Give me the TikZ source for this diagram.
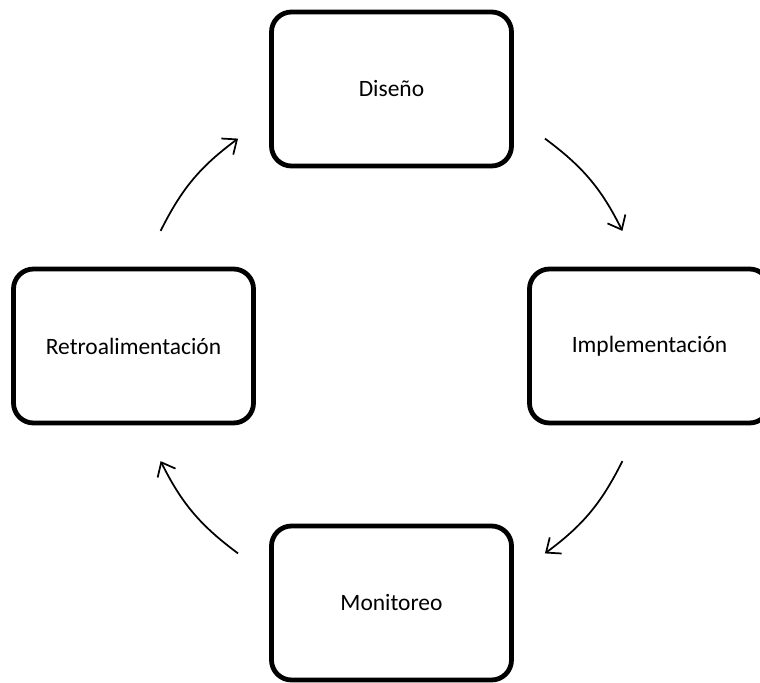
\documentclass[tikz,border=0pt]{standalone}
\usepackage{fontspec}
\setmainfont{Carlito}
\usetikzlibrary{positioning}
\usetikzlibrary{calc}
\usetikzlibrary{arrows.meta}

\begin{document}
\begin{tikzpicture}[x=0.75pt, y=0.75pt, node distance={192.75pt}, on grid, main/.style = {draw, line width=3.6pt, rounded corners=15pt, minimum width=180pt, minimum height=115.5pt, font=\fontsize{17.6}{21}\selectfont}, flow/.style = {line width=1.3pt, -{Straight Barb[length=9pt, width=15pt, line width=1.3pt]}}]
            \useasboundingbox (0,0) rectangle (760,-682);
            \clip (0,0) rectangle (760,-682);
            \node[main] (1) at (391.5,-89) {Diseño};
            \node[main] (2) [below right=192.75pt and 193.5pt of 1] {Implementación};
            \node[main] (3) [below left=192.75pt and 193.5pt of 1] {Retroalimentación};
            \node[main] (4) [below=385.5pt of 1] {Monitoreo};
            \coordinate (c) at ($(2)!0.5!(3)$);
            \coordinate (a1) at ($(c)+(53.5:193.5pt)$);
            \coordinate (b1) at ($(c)+(26.5:193.5pt)$);
            \coordinate (a2) at ($(c)+(-26.5:193.5pt)$);
            \coordinate (b2) at ($(c)+(-53.5:193.5pt)$);
            \coordinate (a3) at ($(c)+(-126.5:193.5pt)$);
            \coordinate (b3) at ($(c)+(-153.5:193.5pt)$);
            \coordinate (a4) at ($(c)+(153.5:193.5pt)$);
            \coordinate (b4) at ($(c)+(126.5:193.5pt)$);
            \draw[flow] (a1) to[bend left=13.5] (b1);
            \draw[flow] (a2) to[bend left=13.5] (b2);
            \draw[flow] (a3) to[bend left=13.5] (b3);
            \draw[flow] (a4) to[bend left=13.5] (b4);
        \end{tikzpicture}
\end{document}
